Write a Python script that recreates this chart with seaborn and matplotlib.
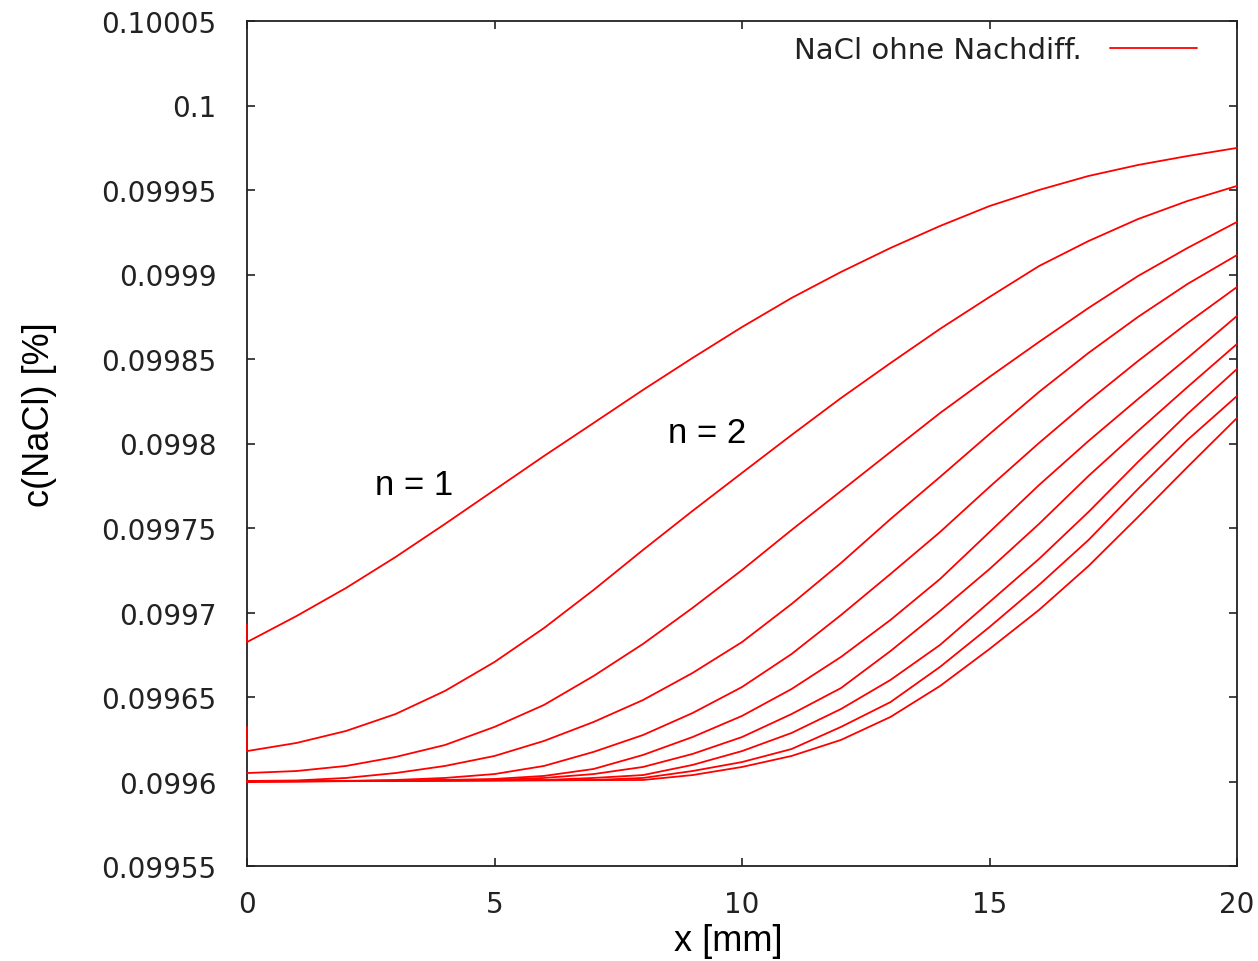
import matplotlib
matplotlib.use("Agg")
import matplotlib.pyplot as plt
import seaborn as sns
import pandas as pd
from matplotlib.ticker import FixedLocator, FixedFormatter

# ---- data ----
x_c1 = [0, 0, 1, 2, 3, 4, 5, 6, 7, 8, 9, 10, 11, 12, 13, 14, 15, 16, 17, 18, 19, 20]
y_c1 = [0.0996930, 0.0996825, 0.0996979, 0.0997145, 0.0997328, 0.0997524, 0.0997725,
        0.0997926, 0.0998121, 0.0998317, 0.0998506, 0.0998689, 0.0998861, 0.0999015,
        0.0999157, 0.0999287, 0.0999405, 0.0999500, 0.0999583, 0.0999648, 0.0999701,
        0.0999749]

x_c2 = [0, 0, 1, 2, 3, 4, 5, 6, 7, 8, 9, 10, 11, 12, 13, 14, 15, 16, 17, 18, 19, 20]
y_c2 = [0.0996323, 0.0996180, 0.0996228, 0.0996299, 0.0996399, 0.0996536, 0.0996707,
        0.0996908, 0.0997133, 0.0997370, 0.0997601, 0.0997826, 0.0998050, 0.0998269,
        0.0998476, 0.0998678, 0.0998867, 0.0999050, 0.0999198, 0.0999328, 0.0999435,
        0.0999524]

x_c3 = [0, 1, 2, 3, 4, 5, 6, 7, 8, 9, 10, 11, 12, 13, 14, 15, 16, 17, 18, 19, 20]
y_c3 = [0.0996050, 0.0996062, 0.0996092, 0.0996145, 0.0996216, 0.0996323, 0.0996453,
        0.0996624, 0.0996814, 0.0997027, 0.0997251, 0.0997488, 0.0997719, 0.0997950,
        0.0998180, 0.0998394, 0.0998601, 0.0998802, 0.0998991, 0.0999157, 0.0999311]

x_c4 = [0, 1, 2, 3, 4, 5, 6, 7, 8, 9, 10, 11, 12, 13, 14, 15, 16, 17, 18, 19, 20]
y_c4 = [0.0996003, 0.0996006, 0.0996021, 0.0996050, 0.0996092, 0.0996151, 0.0996240,
        0.0996352, 0.0996482, 0.0996642, 0.0996825, 0.0997050, 0.0997293, 0.0997553,
        0.0997802, 0.0998056, 0.0998305, 0.0998536, 0.0998749, 0.0998944, 0.0999115]

x_c5 = [0, 2, 3, 4, 5, 6, 7, 8, 9, 10, 11, 12, 13, 14, 15, 16, 17, 18, 19, 20]
y_c5 = [0.0996000, 0.0996003, 0.0996009, 0.0996021, 0.0996044, 0.0996092, 0.0996175,
        0.0996275, 0.0996405, 0.0996559, 0.0996754, 0.0996985, 0.0997228, 0.0997476,
        0.0997743, 0.0998003, 0.0998252, 0.0998488, 0.0998713, 0.0998926]

x_c6 = [0, 3, 5, 6, 7, 8, 9, 10, 11, 12, 13, 14, 15, 16, 17, 18, 19, 20]
y_c6 = [0.0996000, 0.0996003, 0.0996015, 0.0996033, 0.0996074, 0.0996157, 0.0996263,
        0.0996388, 0.0996547, 0.0996737, 0.0996956, 0.0997198, 0.0997476, 0.0997754,
        0.0998015, 0.0998263, 0.0998506, 0.0998755]

x_c7 = [0, 5, 6, 7, 8, 9, 10, 11, 12, 13, 14, 15, 16, 17, 18, 19, 20]
y_c7 = [0.0996000, 0.0996009, 0.0996021, 0.0996044, 0.0996086, 0.0996163, 0.0996263,
        0.0996399, 0.0996553, 0.0996772, 0.0997009, 0.0997257, 0.0997524, 0.0997808,
        0.0998074, 0.0998334, 0.0998589]

x_c8 = [0, 6, 7, 8, 9, 10, 11, 12, 13, 14, 15, 16, 17, 18, 19, 20]
y_c8 = [0.0996000, 0.0996009, 0.0996021, 0.0996038, 0.0996098, 0.0996180, 0.0996287,
        0.0996429, 0.0996601, 0.0996808, 0.0997062, 0.0997317, 0.0997595, 0.0997891,
        0.0998175, 0.0998441]

x_c9 = [0, 7, 8, 9, 10, 11, 12, 13, 14, 15, 16, 17, 18, 19, 20]
y_c9 = [0.0996000, 0.0996009, 0.0996021, 0.0996062, 0.0996115, 0.0996192, 0.0996323,
        0.0996470, 0.0996678, 0.0996914, 0.0997163, 0.0997429, 0.0997731, 0.0998021,
        0.0998281]

x_c10 = [0, 8, 9, 10, 11, 12, 13, 14, 15, 16, 17, 18, 19, 20]
y_c10 = [0.0996000, 0.0996009, 0.0996038, 0.0996086, 0.0996151, 0.0996246, 0.0996382,
         0.0996565, 0.0996784, 0.0997015, 0.0997275, 0.0997565, 0.0997861, 0.0998151]

series_label = "NaCl ohne Nachdiff."
x_ticks = [0, 5, 10, 15, 20]
y_ticks = [0.09955, 0.0996, 0.09965, 0.0997, 0.09975, 0.0998, 0.09985,
           0.0999, 0.09995, 0.1, 0.10005]
y_tick_labels = ["0.09955", "0.0996", "0.09965", "0.0997", "0.09975", "0.0998",
                 "0.09985", "0.0999", "0.09995", "0.1", "0.10005"]
annotations = [("n = 1", 3.37, 0.099776), ("n = 2", 9.29, 0.0998068)]

# ---- long table ----
curves = [(x_c1, y_c1), (x_c2, y_c2), (x_c3, y_c3), (x_c4, y_c4), (x_c5, y_c5),
          (x_c6, y_c6), (x_c7, y_c7), (x_c8, y_c8), (x_c9, y_c9), (x_c10, y_c10)]
rows = []
for i, (xs, ys) in enumerate(curves):
    for j, (xv, yv) in enumerate(zip(xs, ys)):
        rows.append({"x": xv, "c": yv, "curve": i, "order": j})
df = pd.DataFrame(rows)

sns.set_theme(style="white")
plt.rcParams["font.family"] = ["DejaVu Sans"]

fig = plt.figure(figsize=(12.58, 9.62), dpi=100)
ax = fig.add_axes([247 / 1258, 1 - 867 / 962, 990 / 1258, 845 / 962])

sns.lineplot(data=df, x="x", y="c", units="curve", estimator=None, sort=False,
             color="#ff0000", linewidth=1.3, ax=ax, legend=False, zorder=3)
for ln in ax.lines:
    ln.set_clip_on(False)

ax.set_xlim(0, 20)
ax.set_ylim(0.09955, 0.10005)
ax.xaxis.set_major_locator(FixedLocator(x_ticks))
ax.set_xticklabels([str(t) for t in x_ticks])
ax.yaxis.set_major_locator(FixedLocator(y_ticks))
ax.yaxis.set_major_formatter(FixedFormatter(y_tick_labels))

for s in ax.spines.values():
    s.set_visible(True)
    s.set_color("#222222")
    s.set_linewidth(1.3)
    s.set_zorder(2.5)

ax.tick_params(axis="both", which="major", direction="in", length=6, width=1.2,
               color="#222222", top=True, right=True, bottom=True, left=True,
               labelsize=20, labelcolor="#222222")
ax.tick_params(axis="x", pad=17)
ax.tick_params(axis="y", pad=22)

lab_font = {"family": ["Liberation Sans", "DejaVu Sans"], "size": 26, "color": "black"}
ax.set_xlabel("x [mm]", fontdict=lab_font)
ax.set_ylabel("c(NaCl) [%]", fontdict=lab_font)
ax.xaxis.set_label_coords(0.486, -0.068)
ax.yaxis.set_label_coords(-0.192, 0.535)

for txt, xv, yv in annotations:
    ax.text(xv, yv, txt, ha="center", va="center",
            fontfamily=["Liberation Sans", "DejaVu Sans"], fontsize=25, color="black")

leg = ax.legend([ax.lines[0]], [series_label], loc="upper right",
                bbox_to_anchor=(0.9596, 0.982), frameon=False, markerfirst=False,
                fontsize=21, handlelength=3.0, handletextpad=0.95,
                borderpad=0, borderaxespad=0)
for t in leg.get_texts():
    t.set_color("#222222")

fig.savefig("out.png", dpi=100)
